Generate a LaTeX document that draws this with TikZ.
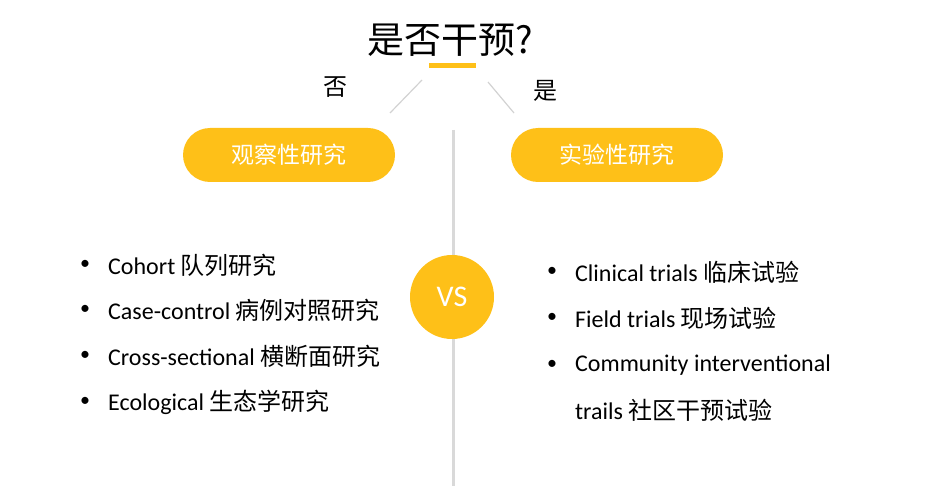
\documentclass[tikz,border=0pt]{standalone}
\usepackage{fontspec}
\setmainfont{Carlito}
\newfontfamily\cjk{Noto Sans CJK SC}
\definecolor{amber}{RGB}{254,192,24}
\definecolor{divgray}{RGB}{217,217,217}
\definecolor{diaggray}{RGB}{210,210,210}
\begin{document}
\begin{tikzpicture}[x=1pt,y=-1pt,
  pill/.style={fill=amber,rounded corners=27pt,minimum width=212pt,minimum height=54pt,inner sep=0pt,text=white,font=\cjk\fontsize{23}{26}\selectfont},
  item/.style={anchor=west,inner sep=0pt,font=\fontsize{24}{28}\selectfont},
  dot/.style={inner sep=0pt,font=\fontsize{20}{24}\selectfont},
  diag/.style={draw=diaggray,line width=1.2pt}]
\useasboundingbox (0,0) rectangle (932,497);
% divider
\coordinate (dtop) at (453,130);
\coordinate (dbot) at (453,486);
\draw[divgray,line width=3pt] (dtop) -- (dbot);
% title
\node[inner sep=0pt,font=\cjk\fontsize{37}{40}\selectfont] (title) at (450,40) {是否干预?};
\fill[amber] (429,63) rectangle (476,68);
\node[inner sep=0pt,font=\cjk\fontsize{24}{26}\selectfont] (no) at (335,87) {否};
\node[inner sep=0pt,font=\cjk\fontsize{24}{26}\selectfont] (yes) at (545,91) {是};
\coordinate (l1) at (422,80); \coordinate (l2) at (390,113);
\coordinate (r1) at (488,82); \coordinate (r2) at (514,113);
\draw[diag] (l1) -- (l2);
\draw[diag] (r1) -- (r2);
% pills
\node[pill] (obs) at (289,155) {观察性研究};
\node[pill] (exp) at (617,155) {实验性研究};
% VS
\node[circle,fill=amber,minimum size=84pt,inner sep=0pt,text=white,font=\fontsize{30}{32}\selectfont] (vs) at (452,297) {VS};
% left list
\node[dot] (b1) at (85,265) {•};
\node[item] (t1) at (108,265) {Cohort {\cjk 队列研究}};
\node[dot] (b2) at (85,310) {•};
\node[item] (t2) at (108,310) {Case-control {\cjk 病例对照研究}};
\node[dot] (b3) at (85,356) {•};
\node[item] (t3) at (108,356) {Cross-sectional {\cjk 横断面研究}};
\node[dot] (b4) at (85,402) {•};
\node[item] (t4) at (108,402) {Ecological {\cjk 生态学研究}};
% right list
\node[dot] (c1) at (552,272) {•};
\node[item] (u1) at (575,272) {Clinical trials {\cjk 临床试验}};
\node[dot] (c2) at (552,318) {•};
\node[item] (u2) at (575,318) {Field trials {\cjk 现场试验}};
\node[dot] (c3) at (552,365) {•};
\node[item] (u3) at (575,365) {Community interventional};
\node[item] (u4) at (575,410) {trails {\cjk 社区干预试验}};
\end{tikzpicture}
\end{document}
